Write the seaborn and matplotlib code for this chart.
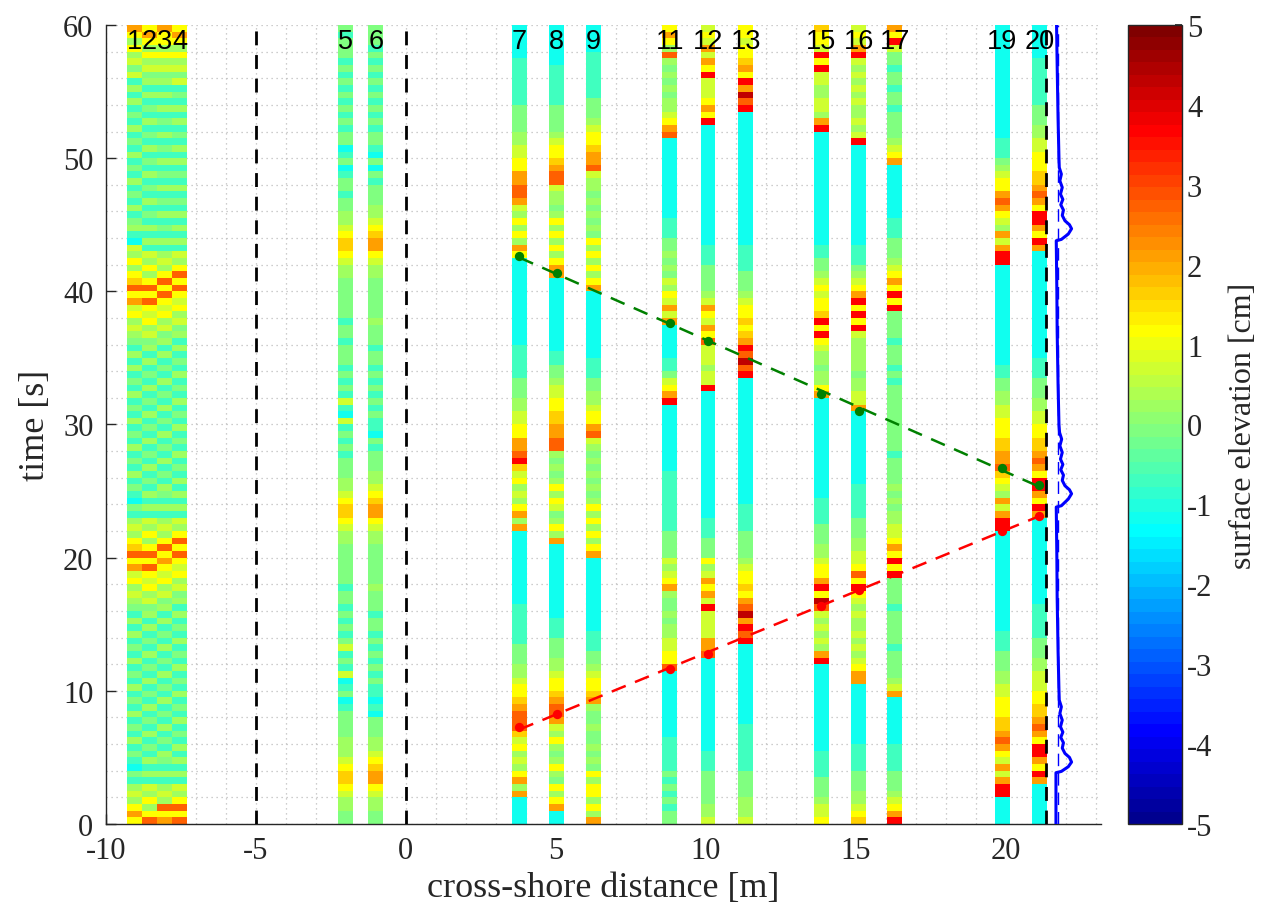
import numpy as np
import matplotlib
matplotlib.use("Agg")
import matplotlib.pyplot as plt
from matplotlib.colors import ListedColormap, Normalize
import seaborn as sns

# ---------------- data ----------------
# surface elevation levels [cm] used by the probe strings below
LEVELS = {'0': -1.2, '1': -0.7, '2': -0.1, '3': 0.3, '4': 0.7, '5': 1.15,
          '6': 1.6, '7': 2.1, '8': 2.7, '9': 3.6, 'r': 4.3}

probe_labels = ['1', '2', '3', '4', '5', '6', '7', '8', '9', '11', '12', '13',
                '15', '16', '17', '19', '20']
probe_x = [-9.05, -8.55, -8.05, -7.55, -2.0, -1.0, 3.78, 5.03, 6.25, 8.8,
           10.07, 11.33, 13.85, 15.1, 16.3, 19.88, 21.12]

# one character per 0.5 s, from t = 60 s (top) down to t = 0 s (bottom)
probe_1 = "7535342413 1312131213 1213121312 3104353568 5745343213 1312131213 1213121312 1021343568 5745343213 1312131213 1213121312 1021343575"
probe_2 = "5753534231 3121312131 2131213121 3131435358 5854534231 3121312131 2131213121 3131435358 5854534231 3121312131 2131213121 3131435358"
probe_3 = "7553534231 3131213121 3121312131 2131343585 8545342313 1213121312 1312131213 2131343585 7545342313 1213121312 1312131213 2131343857"
probe_4 = "5753534241 2131312131 3121312131 3131435858 5453423131 2131213121 3121312131 3131435858 5453423131 2131213121 3121312131 3131435858"
probe_5 = "2122212121 2121212201 2012212233 4566543322 2222122122 2121214104 1212122233 4566543322 2222122121 2124121401 2012222333 4566543322"
probe_6 = "2221212121 2121212210 2021222334 5677543322 2222322212 2121212121 1021222334 5677543322 2222322212 2121212121 1010222334 5677543322"
probe_7 = "0000011111 1122223344 5577887435 3537500000 0000000011 1112223344 5577896453 4357370000 0000000111 1112223345 5678886453 4357370000"
probe_8 = "0000001111 1122223455 6788433235 3535357700 0000000001 1223445566 7788323235 3542353700 0000000001 1122233455 6788743532 3532535700"
probe_9 = "0000111111 1222345567 7843323232 3253535357 0000000000 1112233455 7843232323 2353535357 0000000000 0111223455 6732232232 3253553537"
probe_11 = "5753832323 2334578000 0000000001 1122323243 5474700000 1124579000 0000000111 1111112222 4345732232 3344558000 0000000111 1121212122"
probe_12 = "4547475944 4575900000 0000000000 0001112222 3475475844 4344900000 0000000000 0000111222 5347574944 4477800000 0000000001 1122222334"
probe_13 = "5545567597 r890000000 0000000000 0001111222 3455656798 r890000000 0000000000 0011112222 34556578r7 9890000000 0000011111 1122223334"
probe_15 = "6554959443 3443790000 0000000000 0001122345 4556959543 3233570000 0000000000 0111122233 455795r843 4343790000 0000000001 1112223445"
probe_16 = "4547943434 3433434900 0000000000 0001112345 7959594333 3323344700 0000000001 1111222334 4585954343 3434345770 0000000011 1122233456"
probe_17 = "7594221221 2212222345 7000000001 1122234575 9592222122 2121222222 2222122223 2323344575 9592222122 2221222234 7000000011 1122234579"
probe_19 = "0000000000 0000000111 2345578754 3747990000 0000000000 0112233445 5566778654 3747990000 0000000000 0111222334 4555667875 4747990000"
probe_20 = "0000011111 1122233445 5566787599 7597000000 0000000000 1112223344 5566787599 7597000000 0000000111 1122233444 5566787599 7597000000"

# bore arrival (red) and reflected front (green): probes and times [s]
front_probes = ['7', '8', '11', '12', '15', '16', '19', '20']
red_t = [7.26, 8.24, 11.66, 12.74, 16.37, 17.6, 22.03, 23.15]
green_t = [42.63, 41.35, 37.6, 36.3, 32.29, 31.04, 26.7, 25.48]

# shoreline position (blue line)
shore_t = [0, 3.85, 3.95, 4.3, 4.65, 5.0, 5.3, 5.7, 6.1, 6.5, 6.9, 7.3, 7.8, 8.3,
           8.8, 9.3, 10.0, 13, 17, 20, 23.8, 23.9, 24.4, 24.8, 25.1, 25.4, 25.8,
           26.2, 26.6, 27.0, 27.4, 27.9, 28.4, 28.9, 29.4, 30.0, 33, 37, 40, 43.8,
           43.9, 44.3, 44.7, 45.0, 45.3, 45.7, 46.1, 46.5, 46.9, 47.3, 47.8, 48.3,
           48.8, 49.3, 50.0, 53, 57, 60]
shore_x = [21.67, 21.67, 21.85, 22.08, 22.19, 22.12, 21.97, 21.88, 21.92, 21.83,
           21.90, 21.82, 21.88, 21.80, 21.85, 21.78, 21.77, 21.74, 21.71, 21.70,
           21.68, 21.85, 22.08, 22.19, 22.12, 21.97, 21.88, 21.92, 21.83, 21.90,
           21.82, 21.88, 21.80, 21.86, 21.79, 21.77, 21.74, 21.71, 21.70, 21.68,
           21.85, 22.08, 22.19, 22.12, 21.97, 21.88, 21.92, 21.83, 21.90, 21.82,
           21.88, 21.80, 21.85, 21.78, 21.77, 21.74, 21.71, 21.69]
mean_shore_x = 21.74
boundary_x = [-5, 0, 21.33]

probe_series = [probe_1, probe_2, probe_3, probe_4, probe_5, probe_6, probe_7,
                probe_8, probe_9, probe_11, probe_12, probe_13, probe_15,
                probe_16, probe_17, probe_19, probe_20]

# ---------------- MATLAB jet(64) colormap ----------------
n4 = 16
u = np.concatenate([np.arange(1, n4 + 1) / n4, np.ones(n4 - 1),
                    np.arange(n4, 0, -1) / n4])
idx = np.arange(1, len(u) + 1)
g = 8 + idx
r = g + n4
b = g - n4
J = np.zeros((64, 3))
J[r[r <= 64] - 1, 0] = u[r <= 64]
J[g - 1, 1] = u
J[b[b >= 1] - 1, 2] = u[b >= 1]
cmap = ListedColormap(J)
norm = Normalize(vmin=-5, vmax=5)

# ---------------- figure ----------------
sns.set_theme(style="ticks")
plt.rcParams['font.family'] = ['Liberation Serif', 'DejaVu Serif']
plt.rcParams['axes.unicode_minus'] = False

fig = plt.figure(figsize=(12.63, 9.12), dpi=100)
ax = fig.add_axes([0.0839, 0.0954, 0.7878, 0.8761])
cax = fig.add_axes([0.8931, 0.0954, 0.0428, 0.8761])

STRIP_W = 0.5
mesh = None
for xc, s in zip(probe_x, probe_series):
    vals = np.array([LEVELS[c] for c in s.replace(' ', '')])
    edges_t = np.linspace(60, 0, len(vals) + 1)
    mesh = ax.pcolormesh([xc - STRIP_W / 2, xc + STRIP_W / 2], edges_t,
                         vals[:, None], cmap=cmap, norm=norm, shading='flat',
                         zorder=1)

for xb in boundary_x:
    ax.axvline(xb, color='black', lw=2.0, dashes=(5, 3.5), zorder=3)

ax.axvline(mean_shore_x, color='blue', lw=1.0, dashes=(9, 5), zorder=3)
sns.lineplot(x=shore_x, y=shore_t, sort=False, estimator=None, color='blue',
             lw=2.2, ax=ax, zorder=4)

front_x = [probe_x[probe_labels.index(p)] for p in front_probes]
for tt, col in [(red_t, '#ff0000'), (green_t, '#008000')]:
    coef = np.polyfit(front_x, tt, 1)
    xx = np.array([min(front_x), max(front_x)])
    sns.lineplot(x=xx, y=np.polyval(coef, xx), color=col, lw=1.8, ax=ax,
                 zorder=5)
    ax.lines[-1].set_dashes((6, 4))
    sns.scatterplot(x=front_x, y=tt, color=col, s=45, edgecolor=col,
                    linewidth=0, ax=ax, zorder=6)

for xc, lab in zip(probe_x, probe_labels):
    ax.text(xc, 58.8, lab, ha='center', va='center', fontsize=19.5,
            family=['Liberation Sans', 'DejaVu Sans'], color='black', zorder=7)

ax.set_xlim(-10, 23.17)
ax.set_ylim(0, 60)
ax.set_xticks(np.arange(-10, 21, 5))
ax.set_yticks(np.arange(0, 61, 10))
ax.set_xticks(np.arange(-10, 24, 1), minor=True)
ax.set_yticks(np.arange(0, 61, 2), minor=True)
ax.set_axisbelow(True)
ax.grid(which='both', linestyle=(0, (1, 3)), color='#bdbdbd', lw=0.9)
ax.tick_params(which='major', direction='in', length=7, width=1.0,
               labelsize=22, color='#262626', pad=9)
ax.tick_params(which='minor', length=0)
for side in ['top', 'right']:
    ax.spines[side].set_visible(False)
for side in ['left', 'bottom']:
    ax.spines[side].set_color('#262626')
    ax.spines[side].set_linewidth(1.0)
ax.set_xlabel('cross-shore distance [m]', fontsize=26, labelpad=4)
ax.set_ylabel('time [s]', fontsize=26, labelpad=8)

cb = fig.colorbar(mesh, cax=cax, ticks=np.arange(-5, 6, 1))
cb.ax.tick_params(direction='in', length=5, labelsize=22, color='#262626',
                  right=True, left=False)
cb.outline.set_edgecolor('#262626')
cb.outline.set_linewidth(1.0)
cb.set_label('surface elevation [cm]', fontsize=23, labelpad=12)

fig.savefig('out.png', dpi=100)
